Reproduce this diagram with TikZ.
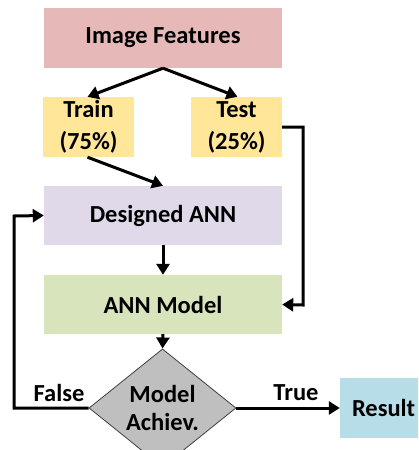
\documentclass[tikz,border=0pt]{standalone}
\usepackage{fontspec}
\setmainfont{Carlito}
\usetikzlibrary{arrows.meta,shapes.geometric}
\definecolor{cfeat}{HTML}{E6B8B7}
\definecolor{csplit}{HTML}{FFE699}
\definecolor{cdes}{HTML}{E0D9EA}
\definecolor{cmodel}{HTML}{D8E4BC}
\definecolor{cdec}{HTML}{BFBFBF}
\definecolor{cres}{HTML}{B7DEE8}
\tikzset{
  box/.style={rectangle, inner sep=0pt, font=\fontsize{24.5}{32}\selectfont\bfseries, align=center},
  conn/.style={line width=3pt, -{Triangle[length=11pt,width=13pt]}},
  lbl/.style={font=\fontsize{24.5}{28}\selectfont\bfseries, inner sep=0pt}
}
\begin{document}
\begin{tikzpicture}[x=1pt,y=-1pt]
\useasboundingbox (0,0) rectangle (418,450);
\clip (0,0) rectangle (418,450);
\node[box, fill=cfeat, minimum width=238pt, minimum height=60pt] (feat) at (163,38) {Image Features};
\node[box, fill=csplit, minimum width=91pt, minimum height=60pt] (train) at (88.5,127) {Train\\(75\%)};
\node[box, fill=csplit, minimum width=91pt, minimum height=60pt] (test) at (236.5,127) {Test\\(25\%)};
\node[box, fill=cdes, minimum width=238pt, minimum height=59pt] (des) at (163,215.5) {Designed ANN};
\node[box, fill=cmodel, minimum width=238pt, minimum height=59pt] (model) at (163,304.5) {ANN Model};
\node[diamond, draw=black!75, line width=0.8pt, fill=cdec, minimum width=147pt, minimum height=86pt, inner sep=0pt, font=\fontsize{24.5}{28}\selectfont\bfseries, align=center] (dec) at (162.5,408) {Model\\Achiev.};
\node[box, fill=cres, minimum width=90pt, minimum height=60pt, text width=90pt, align=left] (res) at (385,408) {\hspace{12pt}Result};
\coordinate (tr) at (303,127);
\coordinate (tb) at (303,305);
\coordinate (fl) at (14,408);
\coordinate (ft) at (14,216);
\draw[conn] (feat.south) -- ([xshift=-1pt]train.north);
\draw[conn] (feat.south) -- ([xshift=1pt]test.north);
\draw[conn] ([xshift=-1pt]train.south) -- (des.north);
\draw[conn] (test.east) -- (tr) -- (tb) -- (model.east);
\draw[conn] (des.south) -- (model.north);
\draw[conn] (model.south) -- (dec.north);
\draw[conn] (dec.east) -- (res.west);
\draw[conn] (dec.west) -- (fl) -- (ft) -- (des.west);
\node[lbl] (tlbl) at (296,393) {True};
\node[lbl] (flbl) at (59,393) {False};
\end{tikzpicture}
\end{document}
